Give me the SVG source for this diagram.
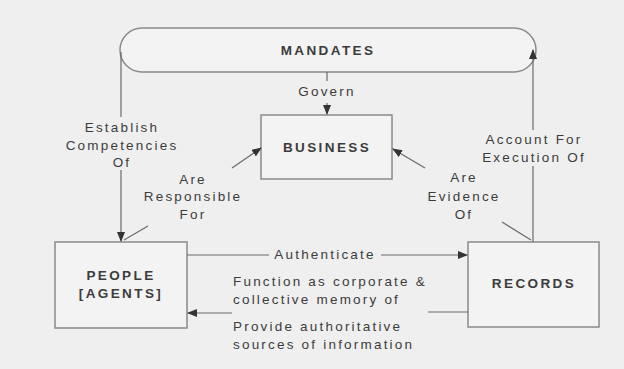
<svg xmlns="http://www.w3.org/2000/svg" width="624" height="369" viewBox="0 0 624 369">
<style>
.bg{fill:#efefef}
.box{fill:#f3f3f3;stroke:#8a8a8a;stroke-width:1.5}
.t{font-family:"Liberation Sans",Arial,sans-serif;font-size:13.5px;fill:#3c3c3c;letter-spacing:2.2px}
.c{text-anchor:middle}
.cap{font-weight:bold;letter-spacing:2.4px}
.ln{stroke:#6a6a6a;stroke-width:1.2;fill:none}
</style>
<defs>
<marker id="ah" markerWidth="10" markerHeight="8" refX="9" refY="4" orient="auto" markerUnits="userSpaceOnUse">
<path d="M0,0 L10,4 L0,8 z" fill="#333"/>
</marker>
</defs>
<rect class="bg" x="0" y="0" width="624" height="369"/>
<g id="mandates">
<rect class="box" x="120" y="28" width="416" height="44" rx="22" ry="22"/>
<text class="t c cap" x="328" y="55">MANDATES</text>
</g>
<g id="business">
<rect class="box" x="261" y="115" width="131" height="64"/>
<text class="t c cap" x="327" y="152">BUSINESS</text>
</g>
<g id="people">
<rect class="box" x="55" y="242" width="132" height="86"/>
<text class="t c cap" x="121" y="280">PEOPLE</text>
<text class="t c cap" x="121" y="298">[AGENTS]</text>
</g>
<g id="records">
<rect class="box" x="468" y="242" width="131" height="85"/>
<text class="t c cap" x="534" y="288">RECORDS</text>
</g>
<g id="connectors">
<line class="ln" x1="327" y1="72" x2="327" y2="81"/>
<line class="ln" x1="327" y1="103" x2="327" y2="114" marker-end="url(#ah)"/>
<line class="ln" x1="121" y1="52" x2="121" y2="117"/>
<line class="ln" x1="121" y1="170" x2="121" y2="241" marker-end="url(#ah)"/>
<line class="ln" x1="148" y1="226" x2="124" y2="240"/>
<line class="ln" x1="232" y1="168" x2="261" y2="148" marker-end="url(#ah)"/>
<line class="ln" x1="425" y1="168" x2="393" y2="149" marker-end="url(#ah)"/>
<line class="ln" x1="502" y1="222" x2="531" y2="240"/>
<line class="ln" x1="533" y1="242" x2="533" y2="166"/>
<line class="ln" x1="533" y1="130" x2="533" y2="50" marker-end="url(#ah)"/>
<line class="ln" x1="187" y1="255" x2="269" y2="255"/>
<line class="ln" x1="381" y1="255" x2="467" y2="255" marker-end="url(#ah)"/>
<line class="ln" x1="468" y1="312" x2="428" y2="312"/>
<line class="ln" x1="232" y1="313" x2="188" y2="313" marker-end="url(#ah)"/>
</g>
<g id="labels">
<text class="t c" x="327" y="96">Govern</text>
<text class="t c" x="122" y="132">Establish</text>
<text class="t c" x="122" y="150">Competencies</text>
<text class="t c" x="122" y="167">Of</text>
<text class="t c" x="193" y="184">Are</text>
<text class="t c" x="193" y="201">Responsible</text>
<text class="t c" x="193" y="219">For</text>
<text class="t c" x="464" y="182">Are</text>
<text class="t c" x="464" y="201">Evidence</text>
<text class="t c" x="464" y="219">Of</text>
<text class="t c" x="534" y="144">Account For</text>
<text class="t c" x="534" y="162">Execution Of</text>
<text class="t c" x="325" y="259">Authenticate</text>
<text class="t" x="233" y="286">Function as corporate &amp;</text>
<text class="t" x="233" y="304">collective memory of</text>
<text class="t" x="233" y="331">Provide authoritative</text>
<text class="t" x="233" y="349">sources of information</text>
</g>
</svg>
